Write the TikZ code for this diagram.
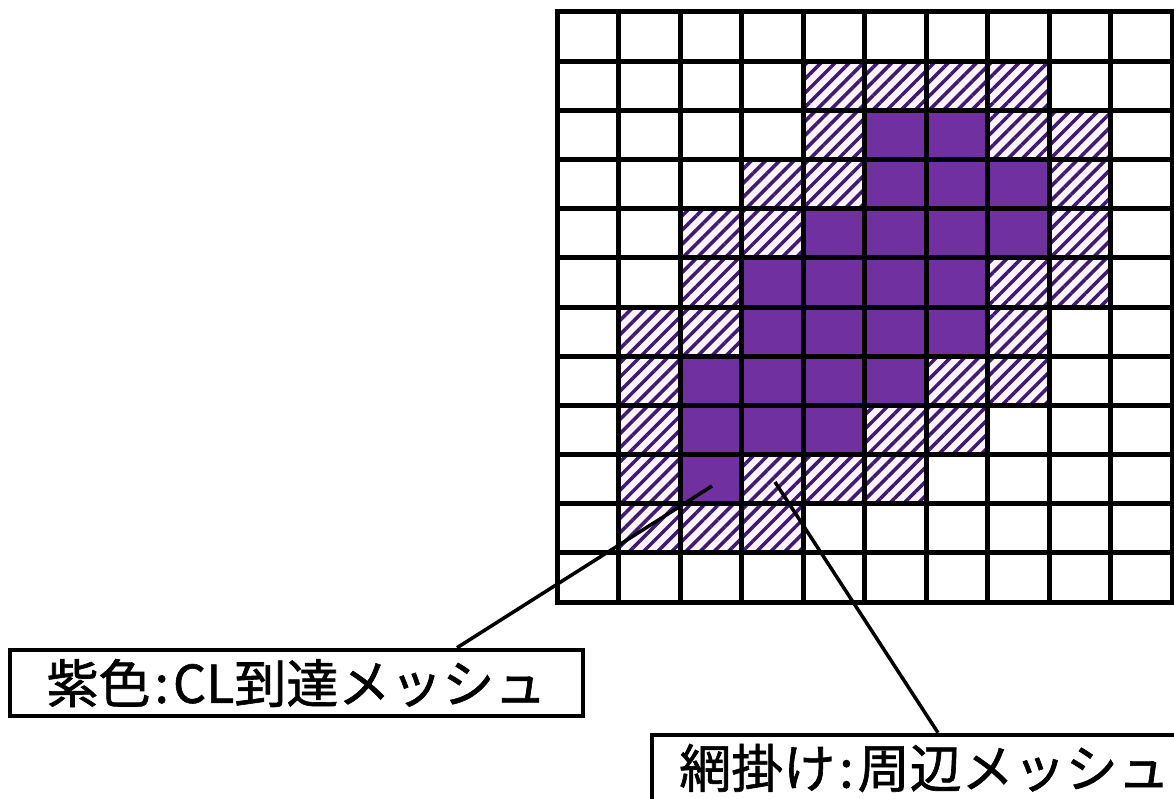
\documentclass[tikz,border=0pt]{standalone}
\usepackage{fontspec}
\newfontfamily\jpfont[FakeBold=1.2]{Noto Sans CJK JP}
\usepackage{tikz}
\usetikzlibrary{patterns.meta}
\definecolor{clpurple}{HTML}{7030A0}
\definecolor{hatchpurple}{HTML}{3E1A72}
\definecolor{hatchback}{HTML}{FFF4FF}
\newcommand{\sep}{\kern4pt:\kern4pt}
\tikzset{
  reached/.style={fill=clpurple},
  around/.style={fill=hatchback,postaction={pattern={Lines[angle=45,distance=10pt,line width=3.5pt]},pattern color=hatchpurple}},
  lbl/.style={draw=black,line width=4.5pt,fill=white,inner sep=0pt,minimum height=66pt,font=\jpfont\fontsize{52}{60}\selectfont},
  leader/.style={draw=black,line width=3.5pt}
}
\begin{document}
\begin{tikzpicture}[x=1pt,y=-1pt]
  \clip (0,0) rectangle (1174,799);
  \fill[white] (0,0) rectangle (1174,799);
  \begin{scope}[shift={(557,12)},x=61.5pt,y=-49.17pt]
    \foreach \x/\y in {5/2,6/2,5/3,6/3,7/3,4/4,5/4,6/4,7/4,3/5,4/5,5/5,6/5,
                       3/6,4/6,5/6,6/6,2/7,3/7,4/7,5/7,2/8,3/8,4/8,2/9} {
      \path[reached] (\x,\y) rectangle (1+\x,1+\y);
    }
    \foreach \x/\y in {4/1,5/1,6/1,7/1,4/2,7/2,8/2,3/3,4/3,8/3,2/4,3/4,8/4,
                       2/5,7/5,8/5,1/6,2/6,7/6,1/7,6/7,7/7,1/8,5/8,6/8,
                       1/9,3/9,4/9,5/9,1/10,2/10,3/10} {
      \path[around] (\x,\y) rectangle (1+\x,1+\y);
    }
    \foreach \x in {0,...,9} {
      \foreach \y in {0,...,11} {
        \draw[line width=5pt] (\x,\y) rectangle (1+\x,1+\y);
      }
    }
  \end{scope}
  \coordinate (clpt) at (712,486);
  \coordinate (peript) at (775,482);
  \node[lbl,minimum width=573pt] (cl) at (296.5,683) {紫色\sep CL到達メッシュ};
  \node[lbl,minimum width=545pt] (peri) at (924.5,768) {網掛け\sep 周辺メッシュ};
  \draw[leader] (clpt) -- ([xshift=160.5pt]cl.north);
  \draw[leader] (peript) -- ([xshift=13.5pt]peri.north);
\end{tikzpicture}
\end{document}
